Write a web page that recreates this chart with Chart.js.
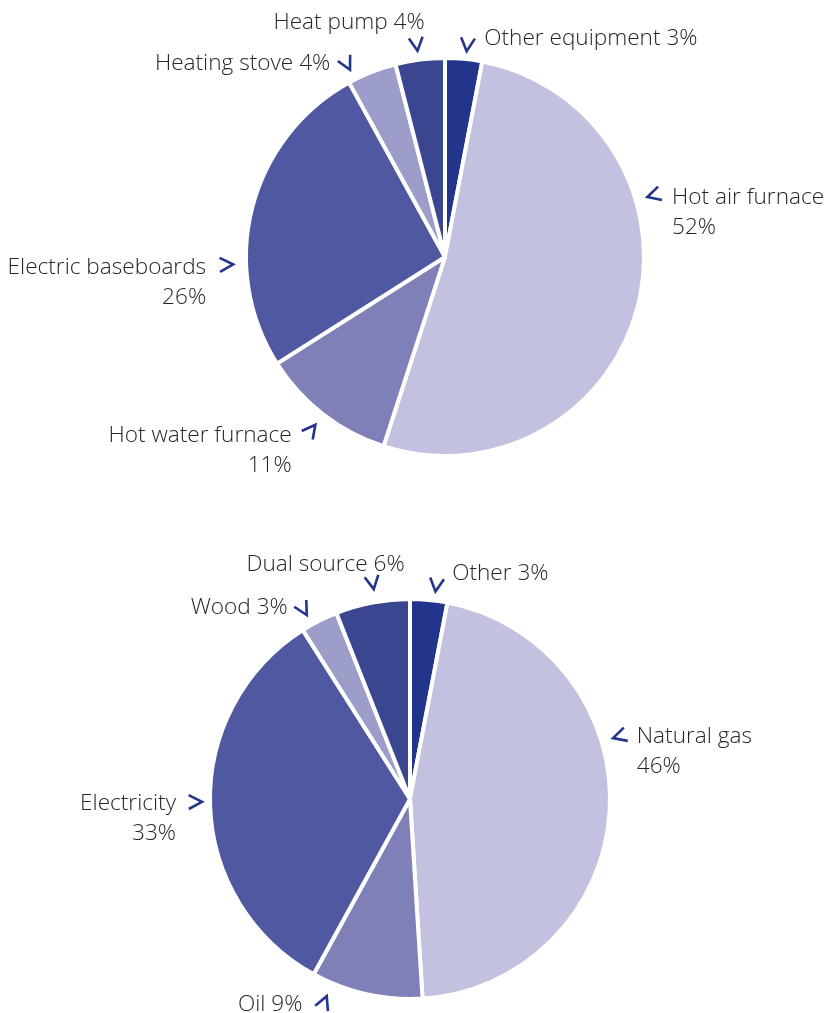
<!DOCTYPE html>
<html>
<head>
<meta charset="utf-8">
<script src="https://cdn.jsdelivr.net/npm/chart.js@4.4.0/dist/chart.umd.min.js"></script>
<style>
  body { margin: 0; background: #fff; }
  .wrap { position: absolute; left: 0; width: 827px; }
  #top { top: 0; height: 520px; }
  #bottom { top: 520px; height: 493px; }
</style>
</head>
<body>
<div class="wrap" id="top"><canvas id="equipChart"></canvas></div>
<div class="wrap" id="bottom"><canvas id="sourceChart"></canvas></div>
<script>
// Heating equipment (top pie), clockwise from 12 o'clock
const equipLabels = ['Other equipment', 'Hot air furnace', 'Hot water furnace', 'Electric baseboards', 'Heating stove', 'Heat pump'];
const equipValues = [3, 52, 11, 26, 4, 4];

// Energy source (bottom pie)
const sourceLabels = ['Other', 'Natural gas', 'Oil', 'Electricity', 'Wood', 'Dual source'];
const sourceValues = [3, 46, 9, 33, 3, 6];

const sliceColors = ['#22358a', '#c2c2e0', '#8080b8', '#4f58a0', '#9c9dc9', '#3a4690'];

// label placement: angle (deg clockwise from top) & distance past the rim for the chevron,
// text offset from the chevron, alignment, and whether the % goes on a second line
const equipLayout = [
    { angle: 6, gap: 14, dx: 17, dy: -7, align: 'left', twoLine: false },
    { angle: 73.5, gap: 18, dx: 19, dy: 2, align: 'left', twoLine: true },
    { angle: 217.7, gap: 19, dx: -20, dy: 6, align: 'right', twoLine: true },
    { angle: 268, gap: 19, dx: -21, dy: 3, align: 'right', twoLine: true },
    { angle: 333.1, gap: 17, dx: -17, dy: -1, align: 'right', twoLine: false },
    { angle: 352.4, gap: 15, dx: 8, dy: -22, align: 'right', twoLine: false }
];
const sourceLayout = [
    { angle: 7, gap: 15, dx: 16, dy: -12, align: 'left', twoLine: false },
    { angle: 73.3, gap: 18, dx: 18, dy: 0, align: 'left', twoLine: true },
    { angle: 202.9, gap: 20, dx: -22, dy: 3, align: 'right', twoLine: false },
    { angle: 269.2, gap: 14, dx: -20, dy: 2, align: 'right', twoLine: true },
    { angle: 330.7, gap: 17, dx: -16, dy: -2, align: 'right', twoLine: false },
    { angle: 350.2, gap: 19, dx: 32, dy: -19, align: 'right', twoLine: false }
];

const FONT = '300 22.6px "Open Sans", "Noto Sans", sans-serif';

// draws chevrons pointing at the pie and the category labels
const calloutPlugin = {
    id: 'callouts',
    afterDatasetsDraw(chart, args, opts) {
        const ctx = chart.ctx;
        const arcs = chart.getDatasetMeta(0).data;
        const cx = arcs[0].x, cy = arcs[0].y, r = arcs[0].outerRadius;
        const labels = chart.data.labels;
        const values = chart.data.datasets[0].data;
        ctx.save();
        opts.layout.forEach((l, i) => {
            const a = l.angle * Math.PI / 180;
            const ux = Math.sin(a), uy = -Math.cos(a);
            const px = cx + (r + l.gap) * ux;
            const py = cy + (r + l.gap) * uy;
            // chevron: tip toward the center
            const tipX = px - ux * 6, tipY = py - uy * 6;
            const back = Math.atan2(uy, ux);
            const arm = 15, spread = 0.48;
            ctx.strokeStyle = '#24358a';
            ctx.lineWidth = 2.6;
            ctx.lineJoin = 'miter';
            ctx.beginPath();
            ctx.moveTo(tipX + arm * Math.cos(back + spread), tipY + arm * Math.sin(back + spread));
            ctx.lineTo(tipX, tipY);
            ctx.lineTo(tipX + arm * Math.cos(back - spread), tipY + arm * Math.sin(back - spread));
            ctx.stroke();

            ctx.fillStyle = '#262626';
            ctx.font = FONT;
            ctx.textAlign = l.align;
            ctx.textBaseline = 'middle';
            const tx = px + l.dx, ty = py + l.dy;
            if (l.twoLine) {
                ctx.fillText(labels[i], tx, ty);
                ctx.fillText(values[i] + '%', tx, ty + 30);
            } else {
                ctx.fillText(labels[i] + ' ' + values[i] + '%', tx, ty);
            }
        });
        ctx.restore();
    }
};

function makePie(id, labels, values, radius, padding, layout) {
    return new Chart(document.getElementById(id).getContext('2d'), {
        type: 'pie',
        data: {
            labels: labels,
            datasets: [{
                data: values,
                backgroundColor: sliceColors,
                borderColor: '#ffffff',
                borderWidth: 4
            }]
        },
        options: {
            responsive: true,
            maintainAspectRatio: false,
            animation: false,
            events: [],
            radius: radius,
            layout: { padding: padding },
            plugins: {
                legend: { display: false },
                tooltip: { enabled: false },
                callouts: { layout: layout }
            }
        },
        plugins: [calloutPlugin]
    });
}

makePie('equipChart', equipLabels, equipValues, 199,
    { left: 245, right: 182, top: 57, bottom: 63 }, equipLayout);
makePie('sourceChart', sourceLabels, sourceValues, 200,
    { left: 210, right: 217, top: 79, bottom: 14 }, sourceLayout);
</script>
</body>
</html>
